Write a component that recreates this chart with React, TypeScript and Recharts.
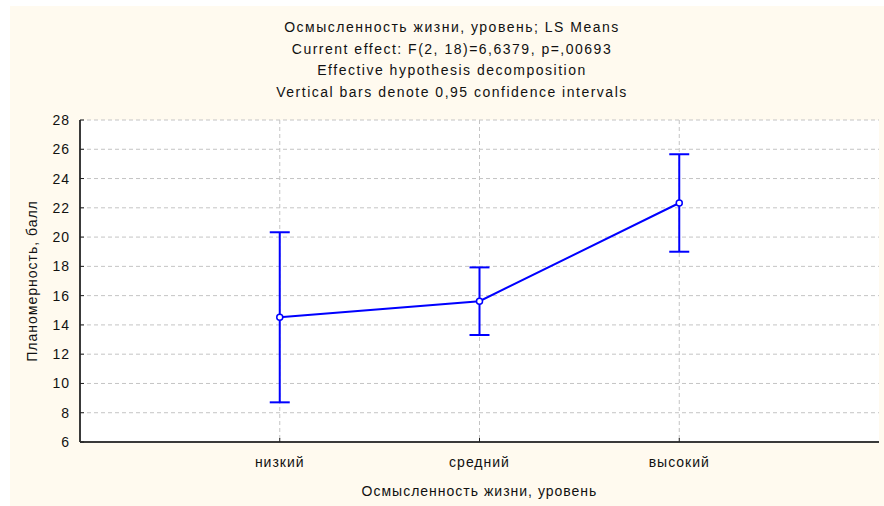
import React from "react";
import {
  ComposedChart,
  Line,
  ErrorBar,
  XAxis,
  YAxis,
  CartesianGrid,
} from "recharts";

// LS means with 0.95 CI half-widths
const categories = ["низкий", "средний", "высокий"];
const means = [14.52, 15.62, 22.33];
const ciHalf = [5.81, 2.31, 3.33];
const yTicks = [6, 8, 10, 12, 14, 16, 18, 20, 22, 24, 26, 28];
const xTicks = [1, 2, 3];
const titleLines = [
  "Осмысленность жизни, уровень; LS Means",
  "Current effect: F(2, 18)=6,6379, p=,00693",
  "Effective hypothesis decomposition",
  "Vertical bars denote 0,95 confidence intervals",
];
const xTitle = "Осмысленность жизни, уровень";
const yTitle = "Планомерность, балл";

const data = categories.map((name, i) => ({
  pos: i + 1,
  name,
  mean: means[i],
  ci: ciHalf[i],
}));

const FONT = "'Liberation Sans', Arial, sans-serif";
const BLUE = "#0000ff";
const BORDER = { stroke: "#3a3a3a", strokeWidth: 2 };
const TICK_STYLE = { fontSize: 14, fill: "#111", fontFamily: FONT, letterSpacing: 1 };

export default function App() {
  return (
    <div
      style={{
        position: "absolute",
        left: 0,
        top: 0,
        width: 884,
        height: 506,
        background: "#ffffff",
        fontFamily: FONT,
      }}
    >
      <div
        style={{
          position: "absolute",
          left: 10,
          top: 6,
          width: 874,
          height: 500,
          background: "#fffaef",
        }}
      >
        <div
          style={{
            position: "absolute",
            left: 0,
            top: 11,
            width: 884,
            textAlign: "center",
            fontSize: 14,
            lineHeight: "21.5px",
            color: "#111",
            letterSpacing: 1.5,
          }}
        >
          {titleLines.map((t) => (
            <div key={t}>{t}</div>
          ))}
        </div>
        <ComposedChart
          width={874}
          height={500}
          data={data}
          margin={{ top: 114, right: 5, left: 0, bottom: 0 }}
          style={{ fontFamily: FONT }}
        >
          <CartesianGrid
            stroke="#c4c4c4"
            strokeDasharray="4 3"
            fill="#ffffff"
            verticalValues={xTicks}
            horizontalValues={yTicks}
          />
          <XAxis
            dataKey="pos"
            type="number"
            domain={[0, 4]}
            ticks={xTicks}
            tickFormatter={(v: number) => categories[v - 1] ?? ""}
            tick={TICK_STYLE}
            tickSize={-4}
            tickMargin={19}
            tickLine={{ stroke: "#222" }}
            axisLine={BORDER}
            height={64}
            label={{
              value: xTitle,
              position: "insideBottom",
              offset: 10,
              style: TICK_STYLE,
            }}
          />
          <XAxis
            xAxisId="top"
            dataKey="pos"
            type="number"
            orientation="top"
            domain={[0, 4]}
            ticks={xTicks}
            tickFormatter={() => ""}
            tickSize={-4}
            tickLine={{ stroke: "#222" }}
            axisLine={BORDER}
            height={0}
          />
          <YAxis
            type="number"
            domain={[6, 28]}
            ticks={yTicks}
            interval={0}
            tick={TICK_STYLE}
            tickSize={-4}
            tickMargin={14}
            tickLine={{ stroke: "#222" }}
            axisLine={BORDER}
            width={70}
            label={{
              value: yTitle,
              angle: -90,
              position: "center",
              dx: -13,
              style: { ...TICK_STYLE, textAnchor: "middle" },
            }}
          />
          <YAxis
            yAxisId="right"
            type="number"
            orientation="right"
            domain={[6, 28]}
            ticks={yTicks}
            interval={0}
            tickFormatter={() => ""}
            tickSize={-4}
            tickLine={{ stroke: "#222" }}
            axisLine={BORDER}
            width={0}
          />
          <Line
            dataKey="mean"
            stroke={BLUE}
            strokeWidth={2}
            dot={{ r: 3, fill: "#ffffff", stroke: BLUE, strokeWidth: 1.5 }}
            isAnimationActive={false}
          >
            <ErrorBar
              dataKey="ci"
              direction="y"
              width={10}
              stroke={BLUE}
              strokeWidth={2}
              isAnimationActive={false}
            />
          </Line>
        </ComposedChart>
      </div>
    </div>
  );
}
